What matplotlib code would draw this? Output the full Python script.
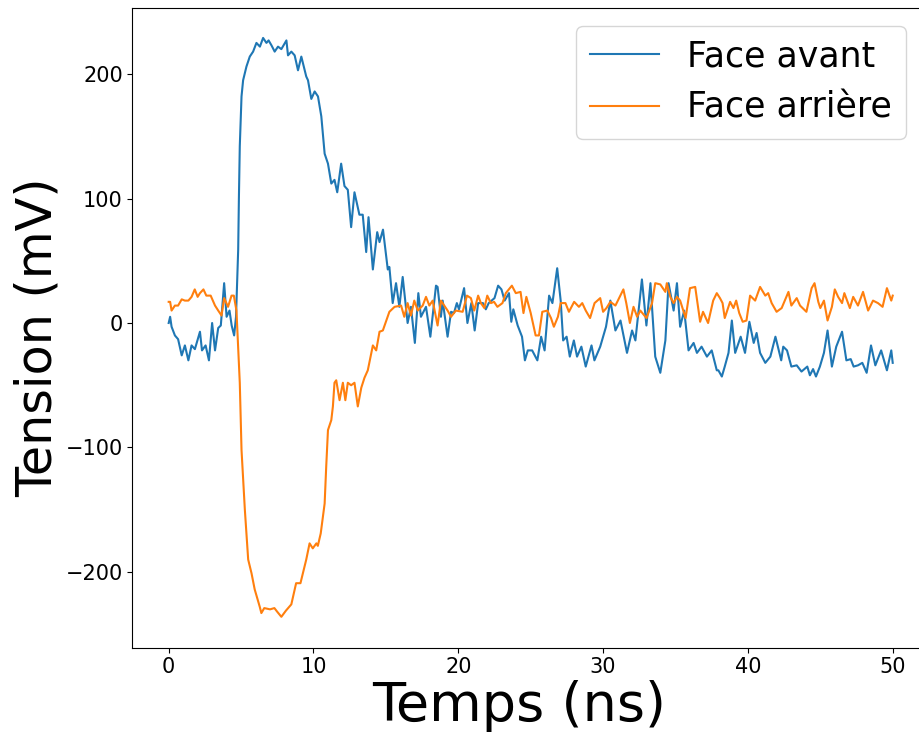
import matplotlib
matplotlib.use("Agg")
import matplotlib.pyplot as plt

# Face avant (blue)
t_avant = [0.0, 0.1, 0.2, 0.43, 0.65, 0.9, 1.12, 1.36, 1.58, 1.81, 2.16, 2.3, 2.55, 2.78, 3.0, 3.2,
           3.42, 3.6, 3.83, 4.0, 4.2, 4.35, 4.52, 4.65, 4.8, 4.85, 4.91, 5.03, 5.14, 5.37, 5.6, 5.83,
           6.06, 6.3, 6.52, 6.75, 6.9, 7.1, 7.32, 7.55, 7.78, 8.13, 8.24, 8.47, 8.7, 8.93, 9.16, 9.5,
           9.62, 9.85, 10.08, 10.31, 10.54, 10.77, 11.0, 11.23, 11.45, 11.64, 11.91, 12.14, 12.37, 12.6,
           12.83, 13.17, 13.4, 13.64, 13.8, 14.1, 14.4, 14.56, 14.8, 15.13, 15.24, 15.47, 15.7, 15.93,
           16.16, 16.5, 16.73, 17.0, 17.24, 17.42, 17.77, 18.07, 18.46, 18.57, 18.8, 18.92, 19.26, 19.5,
           19.7, 19.9, 20.05, 20.4, 20.63, 20.9, 21.13, 21.37, 21.7, 21.9, 22.1, 22.5, 22.75, 22.98,
           23.2, 23.5, 23.66, 23.8, 24.1, 24.4, 24.6, 24.8, 25.1, 25.46, 25.72, 25.96, 26.27, 26.5,
           26.83, 27.07, 27.24, 27.48, 27.7, 27.98, 28.2, 28.5, 28.8, 29.2, 29.4, 29.8, 30.2, 30.5,
           30.85, 31.2, 31.65, 32.0, 32.23, 32.68, 32.99, 33.27, 33.6, 33.95, 34.3, 34.52, 34.87, 35.1,
           35.32, 35.6, 35.9, 36.25, 36.48, 36.8, 37.17, 37.5, 37.85, 37.96, 38.2, 38.4, 38.66, 38.89,
           39.12, 39.5, 39.8, 40.1, 40.4, 40.6, 40.84, 41.2, 41.55, 41.9, 42.3, 42.44, 42.7, 43.0,
           43.37, 43.7, 44.1, 44.28, 44.5, 44.7, 44.97, 45.25, 45.5, 45.8, 46.1, 46.5, 46.8, 47.1,
           47.3, 47.6, 47.9, 48.2, 48.5, 48.8, 49.2, 49.6, 49.9, 50.0]
v_avant = [0, 5, -3, -10, -13, -26, -18, -30, -18, -21, -7, -22, -18, -30, 0, -22,
           -4, -2, 32, 5, 10, -2, -10, 5, 59, 101, 142, 182, 195, 206, 214, 218,
           225, 222, 229, 225, 227, 223, 218, 222, 220, 227, 215, 218, 215, 203, 214, 198,
           195, 180, 186, 182, 166, 136, 128, 112, 115, 105, 128, 110, 107, 77,
           105, 87, 87, 57, 85, 43, 73, 65, 75, 43, 45, 16, 32, 13,
           37, 0, 13, -16, 24, 5, 13, -11, 30, 29, 5, 18, -11, 9,
           8, 16, 11, 28, 0, 16, -6, 16, 16, 11, 16, 20, 30, 27,
           18, 24, 1, 11, -2, -11, -30, -22, -22, -30, -11, -22, 22, 16,
           44, 18, -14, -11, -27, -14, -27, -19, -35, -18, -30, -19, -3, 18,
           -6, 2, -24, -6, -14, 35, -2, 32, -27, -40, -14, 32, 10, 32,
           -3, 10, -22, -16, -24, -19, -27, -22, -38, -38, -43, -35, -24, 2,
           -24, -11, -24, 1, -16, -8, -24, -32, -27, -11, -30, -19, -22, -35,
           -34, -39, -35, -42, -37, -43, -35, -24, -6, -35, -19, -7, -30, -29,
           -35, -34, -32, -40, -18, -34, -22, -38, -22, -32]

# Face arrière (orange)
t_arriere = [0.0, 0.1, 0.2, 0.43, 0.65, 0.9, 1.12, 1.36, 1.58, 1.8, 2.0, 2.16, 2.4, 2.6, 2.9, 3.2,
             3.42, 3.65, 3.83, 4.1, 4.34, 4.5, 4.68, 4.91, 5.03, 5.26, 5.49, 5.72, 5.94, 6.29, 6.4,
             6.6, 7.0, 7.3, 7.5, 7.78, 8.1, 8.47, 8.8, 9.1, 9.5, 9.73, 9.95, 10.2, 10.3, 10.5, 10.77,
             10.88, 11.0, 11.23, 11.34, 11.45, 11.57, 11.8, 12.03, 12.2, 12.37, 12.6, 12.83, 13.06,
             13.3, 13.52, 13.75, 14.1, 14.33, 14.56, 14.79, 15.0, 15.24, 15.6, 16.05, 16.27, 16.5,
             16.73, 16.96, 17.2, 17.54, 17.77, 18.0, 18.23, 18.57, 18.8, 19.03, 19.26, 19.5, 19.83,
             20.3, 20.6, 20.87, 21.1, 21.37, 21.56, 21.8, 22.0, 22.25, 22.47, 22.7, 23.05, 23.28,
             23.7, 23.97, 24.3, 24.5, 24.7, 25.0, 25.34, 25.57, 25.8, 26.15, 26.4, 26.6, 26.88,
             27.07, 27.4, 27.64, 28.0, 28.33, 28.56, 28.8, 29.1, 29.41, 29.8, 30.0, 30.23, 30.5,
             30.85, 31.15, 31.4, 31.6, 31.85, 32.1, 32.35, 32.57, 32.85, 33.0, 33.38, 33.6, 33.95,
             34.3, 34.4, 34.64, 34.87, 35.1, 35.32, 35.7, 36.0, 36.36, 36.7, 36.9, 37.25, 37.6,
             37.85, 38.07, 38.25, 38.4, 38.77, 39.0, 39.19, 39.4, 39.64, 39.9, 40.15, 40.5, 40.84,
             41.2, 41.4, 41.64, 41.98, 42.33, 42.8, 43.0, 43.37, 43.6, 44.04, 44.4, 44.6, 44.86,
             45.0, 45.25, 45.5, 45.8, 46.0, 46.23, 46.5, 46.66, 47.04, 47.27, 47.6, 47.95, 48.3,
             48.64, 48.98, 49.3, 49.6, 49.9, 50.0]
v_arriere = [17, 17, 10, 14, 14, 19, 18, 18, 21, 27, 21, 24, 27, 22, 22, 14,
             10, 6, 20, 13, 22, 22, 10, -48, -102, -150, -190, -201, -214, -228, -233,
             -229, -230, -229, -232, -236, -231, -226, -209, -209, -190, -177, -181, -177, -179, -169, -145,
             -115, -86, -78, -67, -48, -46, -62, -48, -62, -48, -50, -48, -67,
             -52, -44, -38, -18, -22, -7, -6, 1, 9, 13, 14, 5, 16,
             6, 18, 10, 14, 21, 14, 18, -2, 18, 14, 10, 5, 10,
             9, 22, 20, 10, 22, 16, 12, 22, 16, 17, 13, 16, 24,
             30, 24, 25, 8, 21, 8, -10, -10, 9, 10, 4, -3, 5,
             16, 16, 9, 17, 13, 16, 10, 4, 16, 20, 9, 12, 17,
             14, 21, 27, 16, 0, 13, 5, 10, 6, 4, 16, 32, 31,
             25, 32, 21, 16, 21, 18, 4, 28, 29, 1, 9, 0, 18,
             24, 20, 16, 4, 17, 12, 18, 8, 1, 2, 22, 18, 29,
             22, 24, 16, 9, 12, 25, 14, 20, 14, 9, 28, 32, 17,
             12, 18, 2, 13, 27, 21, 16, 24, 12, 21, 14, 25, 10,
             18, 16, 13, 28, 18, 22]

labels = ["Face avant", "Face arrière"]
x_ticks = [0, 10, 20, 30, 40, 50]
y_ticks = [-200, -100, 0, 100, 200]

fig = plt.figure(figsize=(9.2, 7.34), dpi=100)
ax = fig.add_axes([0.1440, 0.1176, 0.8657, 0.8711])
ax.plot(t_avant, v_avant, color="#1f77b4", lw=1.5, label=labels[0])
ax.plot(t_arriere, v_arriere, color="#ff7f0e", lw=1.5, label=labels[1])
ax.set_xlim(-2.5, 52.5)
ax.set_ylim(-260.8, 252.8)
ax.set_xticks(x_ticks)
ax.set_yticks(y_ticks)
ax.tick_params(labelsize=15)
ax.set_xlabel("Temps (ns)", fontsize=39, labelpad=2, x=0.486)
ax.set_ylabel("Tension (mV)", fontsize=35.5, labelpad=3, y=0.486)
ax.legend(loc="upper right", fontsize=25, bbox_to_anchor=(0.9925, 1.0))
fig.savefig("out.png", dpi=100)
